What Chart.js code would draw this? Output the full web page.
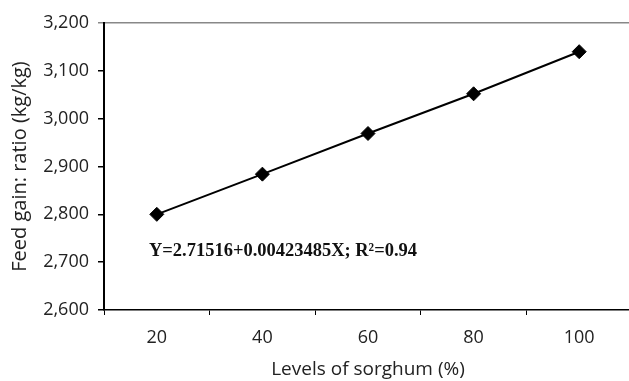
<!DOCTYPE html>
<html>
<head>
<meta charset="utf-8">
<script src="https://cdn.jsdelivr.net/npm/chart.js@4/dist/chart.umd.min.js"></script>
<style>
  html, body { margin: 0; padding: 0; background: #fff; overflow: hidden; }
  #wrap { width: 640px; height: 381px; }
</style>
</head>
<body>
<div id="wrap"><canvas id="chart" width="640" height="381"></canvas></div>
<script>
// data
const levels = ['20', '40', '60', '80', '100'];
const feedGain = [2800, 2884, 2969, 3052, 3140];
const yMin = 2600;
const yMax = 3200;
const yStep = 100;
const equationText = 'Y=2.71516+0.00423485X; R\u00B2=0.94';

const textColor = '#222';

// regression equation written inside the plot
const equationPlugin = {
    id: 'equation',
    afterDatasetsDraw(chart) {
        const ctx = chart.ctx;
        const area = chart.chartArea;
        ctx.save();
        ctx.fillStyle = '#111';
        ctx.font = 'bold 19px "Liberation Serif"';
        ctx.textAlign = 'left';
        ctx.textBaseline = 'alphabetic';
        ctx.fillText(equationText, area.left + 45, area.top + 233, 268);
        ctx.restore();
    }
};

new Chart(document.getElementById('chart'), {
    type: 'line',
    data: {
        labels: levels,
        datasets: [{
            data: feedGain,
            borderColor: '#000',
            borderWidth: 2,
            backgroundColor: '#000',
            pointStyle: 'rectRot',
            pointRadius: 7,
            pointBorderWidth: 1,
            pointBackgroundColor: '#000',
            pointBorderColor: '#000',
            tension: 0,
            fill: false
        }]
    },
    options: {
        responsive: false,
        animation: false,
        layout: { padding: { top: 23, right: 3, left: 0, bottom: 0 } },
        plugins: {
            legend: { display: false },
            tooltip: { enabled: false }
        },
        scales: {
            x: {
                type: 'category',
                offset: true,
                afterFit: (scale) => { scale.height = 71; },
                border: { display: true, color: '#000', width: 1.5 },
                grid: {
                    offset: true,
                    drawOnChartArea: false,
                    drawTicks: true,
                    tickLength: 5,
                    tickColor: '#000'
                },
                ticks: {
                    color: textColor,
                    padding: 12,
                    font: { family: '"Open Sans"', size: 18 }
                },
                title: {
                    display: true,
                    text: 'Levels of sorghum (%)',
                    color: textColor,
                    font: { family: '"Open Sans"', size: 19 },
                    padding: { top: 0, bottom: 0 }
                }
            },
            y: {
                min: yMin,
                max: yMax,
                afterFit: (scale) => { scale.width = 104; },
                border: { display: true, color: '#000', width: 2 },
                grid: {
                    drawOnChartArea: true,
                    drawTicks: true,
                    tickLength: 6,
                    color: (c) => (c.tick && c.tick.value === yMax ? '#888' : 'rgba(0,0,0,0)'),
                    tickColor: (c) => (c.tick && c.tick.value === yMax ? '#888' : '#000'),
                    lineWidth: 1.5
                },
                ticks: {
                    stepSize: yStep,
                    color: textColor,
                    padding: 9,
                    font: { family: '"Open Sans"', size: 18 },
                    callback: (v) => v.toLocaleString('en-US')
                },
                title: {
                    display: true,
                    text: 'Feed gain: ratio (kg/kg)',
                    color: textColor,
                    font: { family: '"Open Sans"', size: 20 },
                    padding: { top: 8, bottom: 0 }
                }
            }
        }
    },
    plugins: [equationPlugin]
});
</script>
</body>
</html>
